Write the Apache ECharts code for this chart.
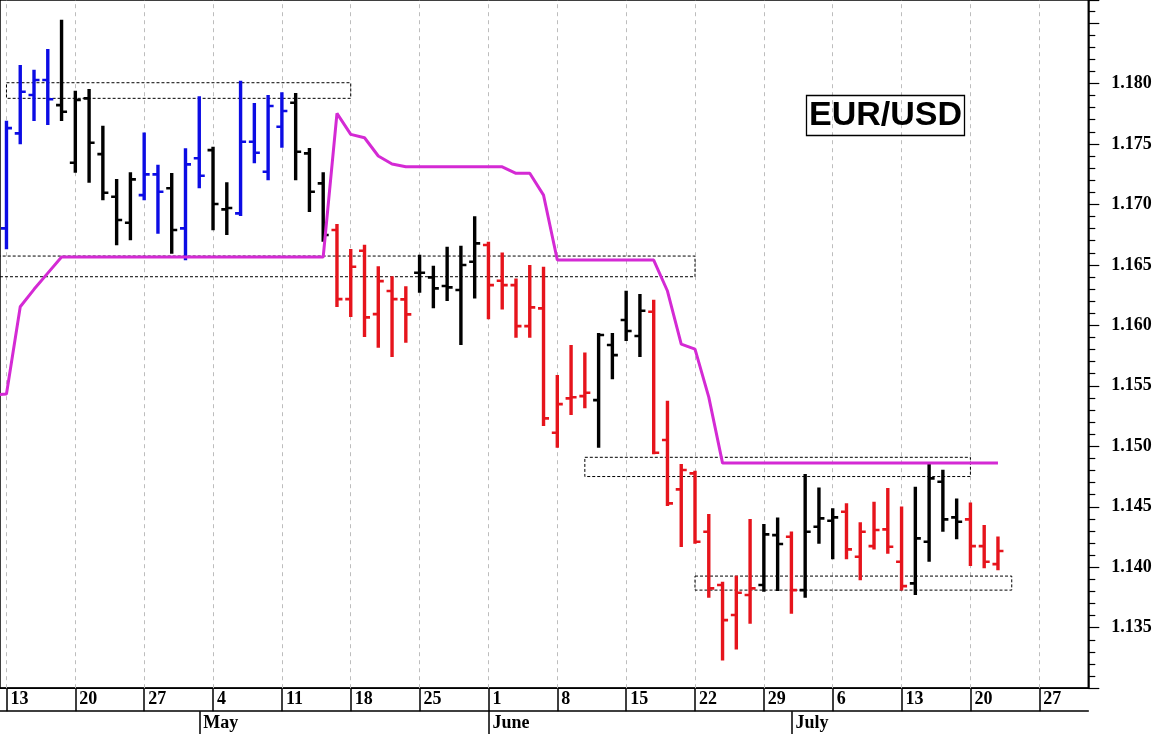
<!DOCTYPE html>
<html><head><meta charset="utf-8">
<script src="https://cdn.jsdelivr.net/npm/echarts@6/dist/echarts.min.js"></script>
<style>html,body{margin:0;padding:0;background:#fff;overflow:hidden}#c{width:1159px;height:734px}</style>
</head><body><div id="c"></div>
<script>
// Trading-day index 0 = Monday 13 April; weekly labels at every 5th day
const weekLabels = ['13','20','27','4','11','18','25','1','8','15','22','29','6','13','20','27'];
const monthNames = ['May','June','July'];
const monthStartIdx = [14, 35, 57];

const opens = [1.16802,1.17587,1.17904,1.18028,1.17821,1.17344,1.17877,1.17416,1.17063,1.16848,
 1.17077,1.17248,1.17133,1.16802,1.17381,1.17449,1.16959,1.16926,1.17518,1.1727,
 1.17642,1.1784,1.17422,1.17174,1.16788,1.16217,1.16617,1.16093,1.16284,1.16215,
 1.16435,1.16397,1.16325,1.16292,1.16526,1.16664,1.16369,1.16333,1.15994,1.1614,
 1.15112,1.15396,1.15415,1.15382,1.15837,1.16044,1.15912,1.16112,1.15052,1.14644,
 1.14776,1.14293,1.13853,1.13605,1.1377,1.13853,1.14266,1.14252,1.13811,1.14335,
 1.14384,1.14459,1.14087,1.14175,1.14313,1.14045,1.13867,1.14211,1.14707,1.14412,
 1.14396,1.14175,1.14026];
const highs = [1.17683,1.18144,1.18105,1.18276,1.18518,1.17931,1.17945,1.17642,1.17201,1.17257,
 1.17587,1.1732,1.17251,1.17455,1.17885,1.17468,1.17174,1.18014,1.1783,1.17896,
 1.17918,1.17912,1.17458,1.17257,1.16829,1.16623,1.16658,1.1648,1.16397,1.16314,
 1.16575,1.16484,1.16642,1.1665,1.16893,1.16683,1.16595,1.1638,1.1649,1.16476,
 1.15581,1.15829,1.15768,1.15928,1.15928,1.16278,1.1625,1.16203,1.15368,1.14845,
 1.1479,1.14432,1.13872,1.13921,1.1439,1.14349,1.14404,1.14288,1.14762,1.14652,
 1.14479,1.1452,1.14363,1.14533,1.14646,1.14495,1.14657,1.14845,1.14798,1.14561,
 1.14528,1.14341,1.14247];
const lows = [1.16637,1.17505,1.17697,1.17664,1.17697,1.1727,1.17187,1.17042,1.1667,1.16711,
 1.17042,1.16766,1.166,1.16546,1.17141,1.16794,1.16755,1.16912,1.17348,1.17207,
 1.17477,1.17207,1.16945,1.16699,1.1616,1.16077,1.15912,1.15823,1.15746,1.15864,
 1.16278,1.16149,1.16209,1.15845,1.16231,1.16058,1.1614,1.15906,1.15906,1.15176,
 1.14996,1.15267,1.15322,1.14996,1.15562,1.15878,1.15746,1.14942,1.14514,1.14175,
 1.14203,1.13756,1.13238,1.13329,1.13541,1.13806,1.13811,1.13624,1.13756,1.14203,
 1.14074,1.14074,1.139,1.14156,1.1412,1.13817,1.13778,1.14054,1.14302,1.14239,
 1.14018,1.13999,1.13983];
const closes = [1.17631,1.17931,1.18028,1.17869,1.17766,1.17863,1.1751,1.17096,1.16871,1.17207,
 1.17248,1.17105,1.16788,1.17331,1.17237,1.17003,1.1697,1.17518,1.17427,1.17813,
 1.17772,1.17435,1.17105,1.16747,1.16217,1.16484,1.16066,1.16366,1.16217,1.16091,
 1.16435,1.16306,1.16314,1.16499,1.16678,1.16333,1.16333,1.15994,1.16149,1.15231,
 1.15349,1.15405,1.15443,1.1592,1.15754,1.15953,1.16121,1.14947,1.14528,1.14804,
 1.14211,1.13825,1.13563,1.13789,1.13825,1.14272,1.14192,1.13811,1.14293,1.14404,
 1.14412,1.14148,1.14293,1.14308,1.14169,1.13844,1.14239,1.14735,1.14396,1.14376,
 1.14175,1.14045,1.14134];
// trend state per bar: B = up (blue), K = neutral (black), R = down (red)
const barTrend = 'BBBBKKKKKKBBKBBKKBBBBKKKRRRRRRKKKKKRRRRRRRRKKKKRRRRRRRRKKRKKKRRRRRKKKKRRR'.split('');

// magenta stop line, starting at index -1
const stopStartIdx = -1;
const stopLine = [1.15424,1.15432,1.16154,1.16298,1.16432,
 1.16565,1.16565,1.16565,1.16565,1.16565,1.16565,1.16565,1.16565,1.16565,1.16565,
 1.16565,1.16565,1.16565,1.16565,1.16565,1.16565,1.16565,1.16565,1.16565,1.16565,
 1.17753,1.17579,1.17551,1.174,1.17334,
 1.17311,1.17311,1.17311,1.17311,1.17311,1.17311,1.17311,1.17311,
 1.17257,1.17257,1.17077,
 1.1654,1.1654,1.1654,1.1654,1.1654,1.1654,1.1654,1.1654,
 1.16284,1.15845,1.15804,1.15407,
 1.14861,1.14861,1.14861,1.14861,1.14861,1.14861,1.14861,1.14861,1.14861,1.14861,
 1.14861,1.14861,1.14861,1.14861,1.14861,1.14861,1.14861,1.14861,1.14861,1.14861,1.14861];

// dashed range boxes
const boxStart = [0, -1, 42, 50];
const boxEnd = [25, 50, 70, 73];
const boxTop = [1.18006, 1.16573, 1.14909, 1.13927];
const boxBottom = [1.17877, 1.16402, 1.1475, 1.13811];

const xRange = {min: -0.47, max: 78.56};
const yTicks = {min: 1.130, max: 1.1869, interval: 0.005};

const palette = {B: '#0c0ce4', K: '#000000', R: '#e6141c'};
const serif = 'Liberation Serif, Times New Roman, serif';

const barData = opens.map((o, i) => [i, o, highs[i], lows[i], closes[i]]);
const stopData = stopLine.map((v, k) => [stopStartIdx + k, v]);
const boxData = boxStart.map((s, k) => [s, boxEnd[k], boxTop[k], boxBottom[k]]);
const weekTickIdx = weekLabels.map((_, k) => k * 5);

const chart = echarts.init(document.getElementById('c'), null, {renderer: 'canvas'});
chart.setOption({
  animation: false,
  backgroundColor: '#fff',
  title: {
    text: 'EUR/USD', left: 806, top: 95,
    padding: [2, 3, 2, 3], borderColor: '#000', borderWidth: 1.3,
    textStyle: {fontFamily: 'Liberation Sans, Arial, sans-serif', fontWeight: 'bold', fontSize: 34, color: '#000', lineHeight: 37}
  },
  grid: {left: 0, right: 70.7, top: 0, bottom: 45.8, show: true, borderColor: '#000', borderWidth: 1.5, backgroundColor: 'transparent'},
  xAxis: [{
    type: 'value', min: xRange.min, max: xRange.max, position: 'bottom',
    axisLine: {show: true, onZero: false, lineStyle: {color: '#000', width: 1.5}},
    axisTick: {show: true, length: 23, customValues: weekTickIdx, lineStyle: {color: '#000', width: 1.5}},
    axisLabel: {show: true, customValues: weekTickIdx, align: 'left', verticalAlign: 'middle', margin: 11, padding: [0, 0, 0, 4],
      fontFamily: serif, fontWeight: 'bold', fontSize: 18, color: '#000',
      formatter: v => { const k = Math.round(v / 5); return (Math.abs(v - k * 5) < 1e-6 && k >= 0 && k < weekLabels.length) ? weekLabels[k] : ''; }},
    splitLine: {show: false}
  }, {
    type: 'value', min: xRange.min, max: xRange.max, position: 'bottom', offset: 23,
    axisLine: {show: true, onZero: false, lineStyle: {color: '#000', width: 1.5}},
    axisTick: {show: true, length: 26, customValues: monthStartIdx, lineStyle: {color: '#000', width: 1.5}},
    axisLabel: {show: true, customValues: monthStartIdx, align: 'left', verticalAlign: 'middle', margin: 12, padding: [0, 0, 0, 4],
      fontFamily: serif, fontWeight: 'bold', fontSize: 18, color: '#000',
      formatter: v => { const k = monthStartIdx.indexOf(Math.round(v)); return (k >= 0 && Math.abs(v - Math.round(v)) < 1e-6) ? monthNames[k] : ''; }},
    splitLine: {show: false}
  }],
  yAxis: {
    type: 'value', position: 'right', min: yTicks.min, max: yTicks.max, interval: yTicks.interval, scale: true,
    axisLine: {show: true, onZero: false, lineStyle: {color: '#000', width: 1.5}},
    axisTick: {show: true, length: 11, lineStyle: {color: '#000', width: 1.2}},
    minorTick: {show: true, splitNumber: 5, length: 7, lineStyle: {color: '#000', width: 1.2}},
    axisLabel: {margin: 23, fontFamily: serif, fontWeight: 'bold', fontSize: 18, color: '#000',
      formatter: v => { const r = Math.round(v * 200); return (Math.abs(v * 200 - r) < 1e-6 && v < 1.1825 && v > 1.1325) ? v.toFixed(3) : ''; }},
    splitLine: {show: false}, minorSplitLine: {show: false}
  },
  series: [{
    type: 'custom', name: 'ranges', xAxisIndex: 0, clip: true, z: 2, zlevel: 1,
    encode: {x: [0, 1], y: [2, 3]},
    data: boxData,
    renderItem: (params, api) => {
      const p1 = api.coord([api.value(0), api.value(2)]);
      const p2 = api.coord([api.value(1), api.value(3)]);
      return {type: 'rect', shape: {x: p1[0], y: p1[1], width: p2[0] - p1[0], height: p2[1] - p1[1]},
        style: {fill: null, stroke: '#000', lineWidth: 1, lineDash: [3, 2]}};
    }
  }, {
    type: 'line', name: 'grid', xAxisIndex: 0, data: [], z: 1, zlevel: 0, silent: true,
    markLine: {
      silent: true, symbol: ['none', 'none'], label: {show: false},
      lineStyle: {color: '#bdbdbd', width: 1, type: [4, 4]},
      data: weekTickIdx.map(v => ({xAxis: v}))
    }
  }, {
    type: 'custom', name: 'EUR/USD', xAxisIndex: 0, clip: true, z: 3, zlevel: 1,
    encode: {x: 0, y: [1, 2, 3, 4]},
    data: barData,
    renderItem: (params, api) => {
      const i = api.value(0);
      const o = api.coord([i, api.value(1)]);
      const h = api.coord([i, api.value(2)]);
      const l = api.coord([i, api.value(3)]);
      const c = api.coord([i, api.value(4)]);
      const color = palette[barTrend[params.dataIndex]];
      const t = 5.5;
      return {type: 'group', children: [
        {type: 'line', shape: {x1: h[0], y1: h[1] - 1, x2: l[0], y2: l[1] + 1}, style: {stroke: color, lineWidth: 3.4}},
        {type: 'line', shape: {x1: o[0] - t, y1: o[1], x2: o[0], y2: o[1]}, style: {stroke: color, lineWidth: 2.6}},
        {type: 'line', shape: {x1: c[0], y1: c[1], x2: c[0] + t, y2: c[1]}, style: {stroke: color, lineWidth: 2.6}}
      ]};
    }
  }, {
    type: 'line', name: 'stop', xAxisIndex: 0, data: stopData, symbol: 'none', z: 4, zlevel: 1,
    lineStyle: {color: '#d42ad4', width: 3}, clip: true
  }]
});
</script></body></html>
